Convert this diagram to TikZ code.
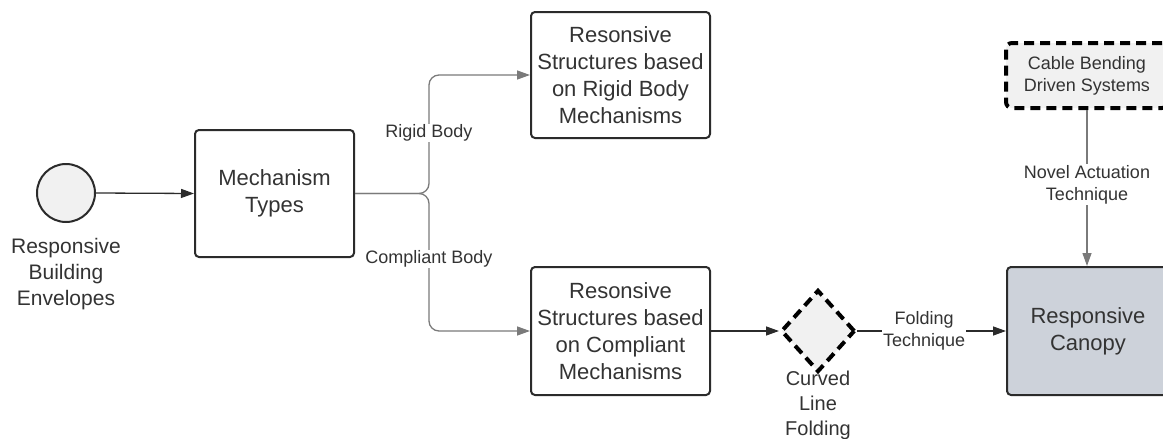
\documentclass[tikz,border=0pt]{standalone}
\usepackage{fontspec}
\setmainfont{Liberation Sans}
\usetikzlibrary{arrows.meta,shapes.geometric}
\definecolor{ink}{HTML}{2B2B2B}
\definecolor{txtc}{HTML}{333333}
\definecolor{lightfill}{HTML}{F1F1F1}
\definecolor{canopyfill}{HTML}{CDD2DA}
\definecolor{branch}{HTML}{7A7A7A}
\tikzset{
  box/.style={draw=ink, line width=2pt, rounded corners=4pt, align=center, inner sep=0pt,
    text=txtc, font=\fontsize{22}{27}\selectfont},
  dashbox/.style={draw=black, line width=4pt, dash pattern=on 10pt off 6pt, rounded corners=6pt,
    fill=lightfill, align=center, inner sep=0pt, text=txtc, font=\fontsize{18}{22}\selectfont},
  conn/.style={draw=ink, line width=1.3pt, -{Triangle[length=13pt,width=9pt]}},
  gconn/.style={draw=branch, line width=1.3pt, -{Triangle[length=13pt,width=9pt]}},
  elabel/.style={fill=white, text=txtc, inner sep=1pt, align=center, font=\fontsize{18}{22}\selectfont},
  captext/.style={text=txtc, align=center, inner sep=0pt},
}
\begin{document}
\begin{tikzpicture}[x=1pt,y=-1pt]
\useasboundingbox (0,0) rectangle (1163,439);
% start circle
\node[circle, draw=ink, line width=2pt, fill=lightfill, minimum size=58pt, inner sep=0pt] (rbe) at (66,193) {};
\node[captext, font=\fontsize{21}{26}\selectfont] (rbel) at (66,274) {Responsive\\Building\\Envelopes};
% boxes
\node[box, minimum width=159pt, minimum height=127pt] (mt) at (274.5,193.5) {Mechanism\\Types};
\node[box, minimum width=179pt, minimum height=126pt] (rb) at (620.5,75) {Resonsive\\Structures based\\on Rigid Body\\Mechanisms};
\node[box, minimum width=179pt, minimum height=128pt] (cb) at (620.5,331) {Resonsive\\Structures based\\on Compliant\\Mechanisms};
% diamond
\node[diamond, draw=black, line width=4pt, dash pattern=on 10pt off 6pt, fill=lightfill,
      minimum width=74pt, minimum height=82pt, inner sep=0pt] (clf) at (818,331) {};
\node[captext, font=\fontsize{20}{25}\selectfont] (clfl) at (818,405) {Curved\\Line\\Folding};
% dashed box
\node[dashbox, minimum width=162pt, minimum height=65pt] (cbd) at (1087,75.5) {Cable Bending\\Driven Systems};
% canopy
\node[box, fill=canopyfill, minimum width=162pt, minimum height=128pt] (rc) at (1088,331) {Responsive\\Canopy};
% connectors
\coordinate (split) at (429,193.5);
\draw[conn] (rbe.east) -- (mt.west);
\draw[gconn, rounded corners=10pt] (mt.east) -- (split) -- (split |- rb.west) -- (rb.west);
\draw[gconn, rounded corners=10pt] (mt.east) -- (split) -- (split |- cb.west) -- (cb.west);
\node[elabel] (lrb) at (429,133) {Rigid Body};
\node[elabel] (lcb) at (429,259) {Compliant Body};
\draw[conn] (cb.east) -- (clf.west);
\draw[conn] (clf.east) -- node[elabel, pos=0.45] (lft) {Folding\\Technique} (rc.west);
\draw[gconn] (cbd.south) -- node[elabel, pos=0.48] (lna) {Novel Actuation\\Technique} (rc.north -| cbd.south);
\end{tikzpicture}
\end{document}
